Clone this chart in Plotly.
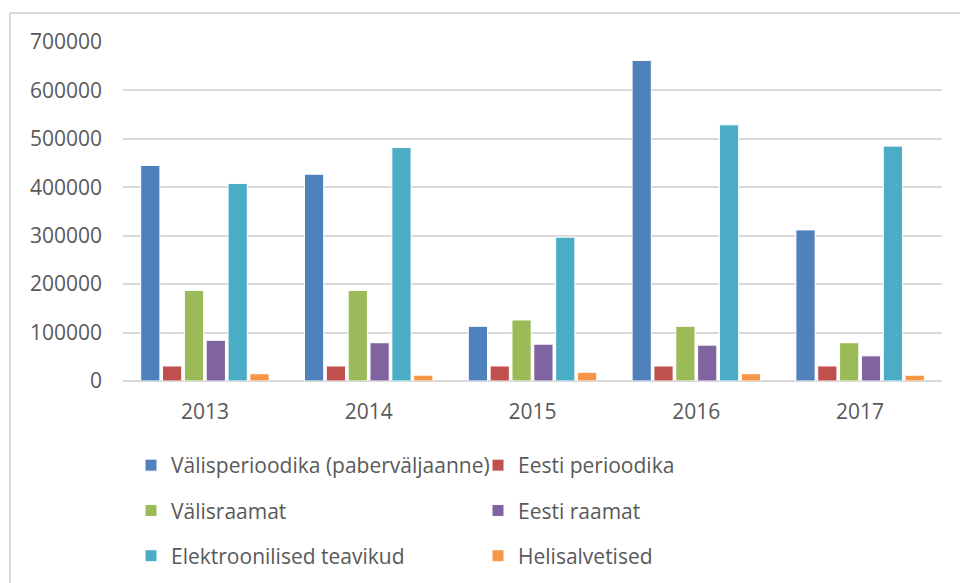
import plotly.graph_objects as go

years = ["2013", "2014", "2015", "2016", "2017"]
series_names = [
    "Välisperioodika (paberväljaanne)",
    "Eesti perioodika",
    "Välisraamat",
    "Eesti raamat",
    "Elektroonilised teavikud",
    "Helisalvetised",
]
valisperioodika = [445000, 427000, 113000, 662000, 312000]
eesti_perioodika = [31000, 31000, 31000, 31000, 31000]
valisraamat = [187000, 187000, 126000, 113000, 79000]
eesti_raamat = [84000, 79000, 76000, 74000, 52000]
elektroonilised = [408000, 482000, 297000, 529000, 485000]
helisalvetised = [15000, 12000, 18000, 15000, 12000]

series_values = [valisperioodika, eesti_perioodika, valisraamat,
                 eesti_raamat, elektroonilised, helisalvetised]
colors = ["#4F81BD", "#C0504D", "#9BBB59", "#8064A2", "#4BACC6", "#F79646"]
legend_ids = ["legend", "legend2", "legend", "legend2", "legend", "legend2"]

FONT = "Open Sans"
TXT = "#595959"
GRID = "#D9D9D9"

fig = go.Figure()
for i, (name, vals) in enumerate(zip(series_names, series_values)):
    fig.add_trace(go.Bar(
        x=years, y=vals, name=name,
        marker=dict(color=colors[i], line=dict(color="white", width=1)),
        legend=legend_ids[i], legendgroup="g%d" % i,
    ))

W, H = 960, 583
ml, mr, mt, mb = 123, 18, 42, 202
pw = W - ml - mr
ph = H - mt - mb

def px_x(p):
    return (p - ml) / pw

def px_y(p):
    return (H - mb - p) / ph

legend_common = dict(
    orientation="v", xanchor="left", yanchor="top",
    font=dict(family=FONT, size=21, color=TXT),
    bgcolor="rgba(0,0,0,0)", tracegroupgap=15, traceorder="grouped",
)

fig.update_layout(
    width=W, height=H,
    margin=dict(l=ml, r=mr, t=mt, b=mb, pad=0, autoexpand=False),
    paper_bgcolor="white", plot_bgcolor="white",
    barmode="group", bargap=0.2, bargroupgap=0.12,
    font=dict(family=FONT, size=21, color=TXT),
    legend=dict(x=px_x(131), y=px_y(445), **legend_common),
    legend2=dict(x=px_x(478), y=px_y(445), **legend_common),
    xaxis=dict(
        showgrid=False, showline=False, zeroline=False,
        tickfont=dict(family=FONT, size=21, color=TXT),
        ticklabelstandoff=16,
    ),
    yaxis=dict(
        range=[0, 700000], dtick=100000, tickformat="d",
        showgrid=True, gridcolor=GRID, gridwidth=1.6,
        zeroline=True, zerolinecolor=GRID, zerolinewidth=1.6,
        showline=False,
        tickfont=dict(family=FONT, size=21, color=TXT),
        ticklabelstandoff=20,
    ),
    shapes=[
        dict(type="line", xref="paper", yref="paper",
             x0=px_x(10), x1=px_x(10), y0=px_y(13), y1=px_y(H + 10),
             line=dict(color=GRID, width=2)),
        dict(type="line", xref="paper", yref="paper",
             x0=px_x(10), x1=px_x(W + 10), y0=px_y(13), y1=px_y(13),
             line=dict(color=GRID, width=2)),
    ],
)

fig.write_html("out.html")
